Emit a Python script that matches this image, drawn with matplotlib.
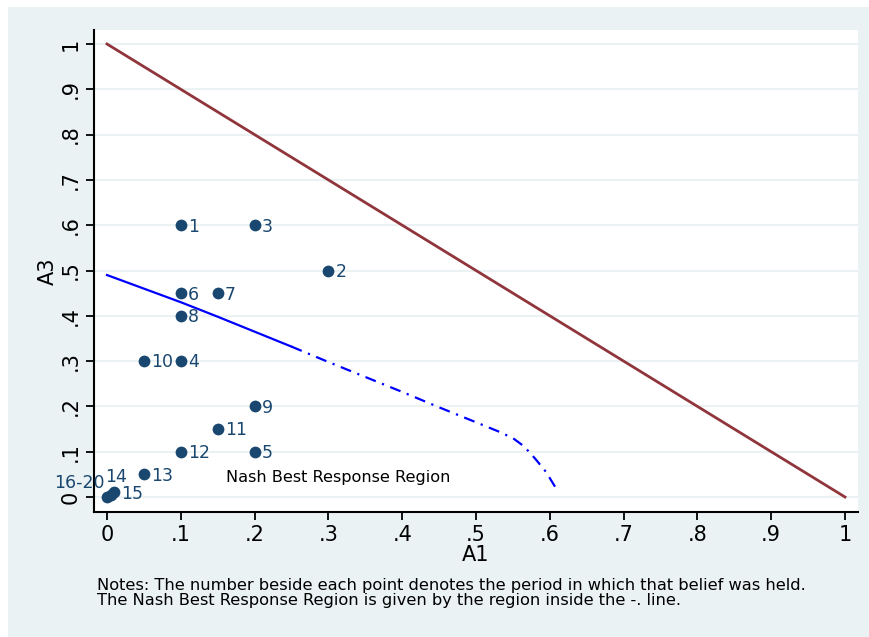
#!/usr/bin/env python
import matplotlib
matplotlib.use('Agg')
import matplotlib.pyplot as plt
from matplotlib.patches import Rectangle

# beliefs (A1, A3) and the period they were held
periods = ['1', '2', '3', '4', '5', '6', '7', '8', '9', '10', '11', '12', '13', '14', '15', '16-20']
a1 = [0.10, 0.30, 0.20, 0.10, 0.20, 0.10, 0.15, 0.10, 0.20, 0.05, 0.15, 0.10, 0.05, 0.005, 0.01, 0.0]
a3 = [0.60, 0.50, 0.60, 0.30, 0.10, 0.45, 0.45, 0.40, 0.20, 0.30, 0.15, 0.10, 0.05, 0.005, 0.01, 0.0]

# simplex boundary A1 + A3 = 1
edge_x = [0.0, 1.0]
edge_y = [1.0, 0.0]

# Nash best response boundary
nash_x = [0.0, 0.05, 0.10, 0.15, 0.20, 0.25, 0.30, 0.35, 0.40, 0.45, 0.50, 0.53, 0.55, 0.565, 0.58, 0.595, 0.61]
nash_y = [0.49, 0.46, 0.43, 0.398, 0.365, 0.332, 0.298, 0.265, 0.232, 0.198, 0.165, 0.145, 0.13, 0.112, 0.085, 0.055, 0.015]
n_solid = 6  # first part of the curve is drawn solid

ticks = [0, 0.1, 0.2, 0.3, 0.4, 0.5, 0.6, 0.7, 0.8, 0.9, 1.0]
tick_labels = ['0', '.1', '.2', '.3', '.4', '.5', '.6', '.7', '.8', '.9', '1']

bg = '#EAF2F3'
navy = '#1A476F'

fig = plt.figure(figsize=(8.7, 6.37), dpi=100)
fig.patch.set_facecolor('white')
fig.patches.append(Rectangle((8 / 870, 0), 1, 1 - 7 / 637, transform=fig.transFigure,
                             facecolor=bg, edgecolor='none', zorder=-10))

ax = fig.add_axes([94 / 870, 1 - 512 / 637, (858 - 94) / 870, (512 - 30) / 637])
ax.set_facecolor('white')

for t in ticks:
    ax.axhline(t, color=bg, lw=1.5, zorder=0)

ax.plot(edge_x, edge_y, color='#90353B', lw=2, zorder=2)
ax.plot(nash_x[:n_solid], nash_y[:n_solid], color='blue', lw=1.6, zorder=2)
ax.plot(nash_x[n_solid - 1:], nash_y[n_solid - 1:], color='blue', lw=1.6,
        linestyle=(0, (5, 3, 1, 3)), zorder=2)

ax.scatter(a1, a3, s=72, color=navy, zorder=3, linewidths=0)

for lab, x, y in zip(periods, a1, a3):
    if lab == '16-20':
        ax.annotate(lab, (x, y), xytext=(-2, 10), textcoords='offset points',
                    ha='right', va='center', color=navy, fontsize=12.5)
    elif lab == '14':
        ax.annotate(lab, (x, y), xytext=(4, 13), textcoords='offset points',
                    ha='center', va='center', color=navy, fontsize=12.5)
    else:
        ax.annotate(lab, (x, y), xytext=(5, -1), textcoords='offset points',
                    ha='left', va='center', color=navy, fontsize=12.5)

ax.text(0.161, 0.042, 'Nash Best Response Region', ha='left', va='center',
        fontsize=11.6, color='black')

ax.set_xlim(-0.0176, 1.0176)
ax.set_ylim(-0.0331, 1.0309)
ax.set_xticks(ticks)
ax.set_xticklabels(tick_labels)
ax.set_yticks(ticks)
ax.set_yticklabels(tick_labels, rotation=90, va='center')
ax.tick_params(labelsize=15, length=6, width=1.3, direction='out')
ax.set_xlabel('A1', fontsize=15, labelpad=0)
ax.set_ylabel('A3', fontsize=15, labelpad=2)

for s in ['top', 'right']:
    ax.spines[s].set_visible(False)
for s in ['left', 'bottom']:
    ax.spines[s].set_linewidth(1.5)

fig.text(97 / 870, 1 - 593 / 637,
         'Notes: The number beside each point denotes the period in which that belief was held.\n'
         'The Nash Best Response Region is given by the region inside the -. line.',
         ha='left', va='center', fontsize=11.7, linespacing=1.0)

plt.savefig('out.png', dpi=100, facecolor=fig.get_facecolor())
